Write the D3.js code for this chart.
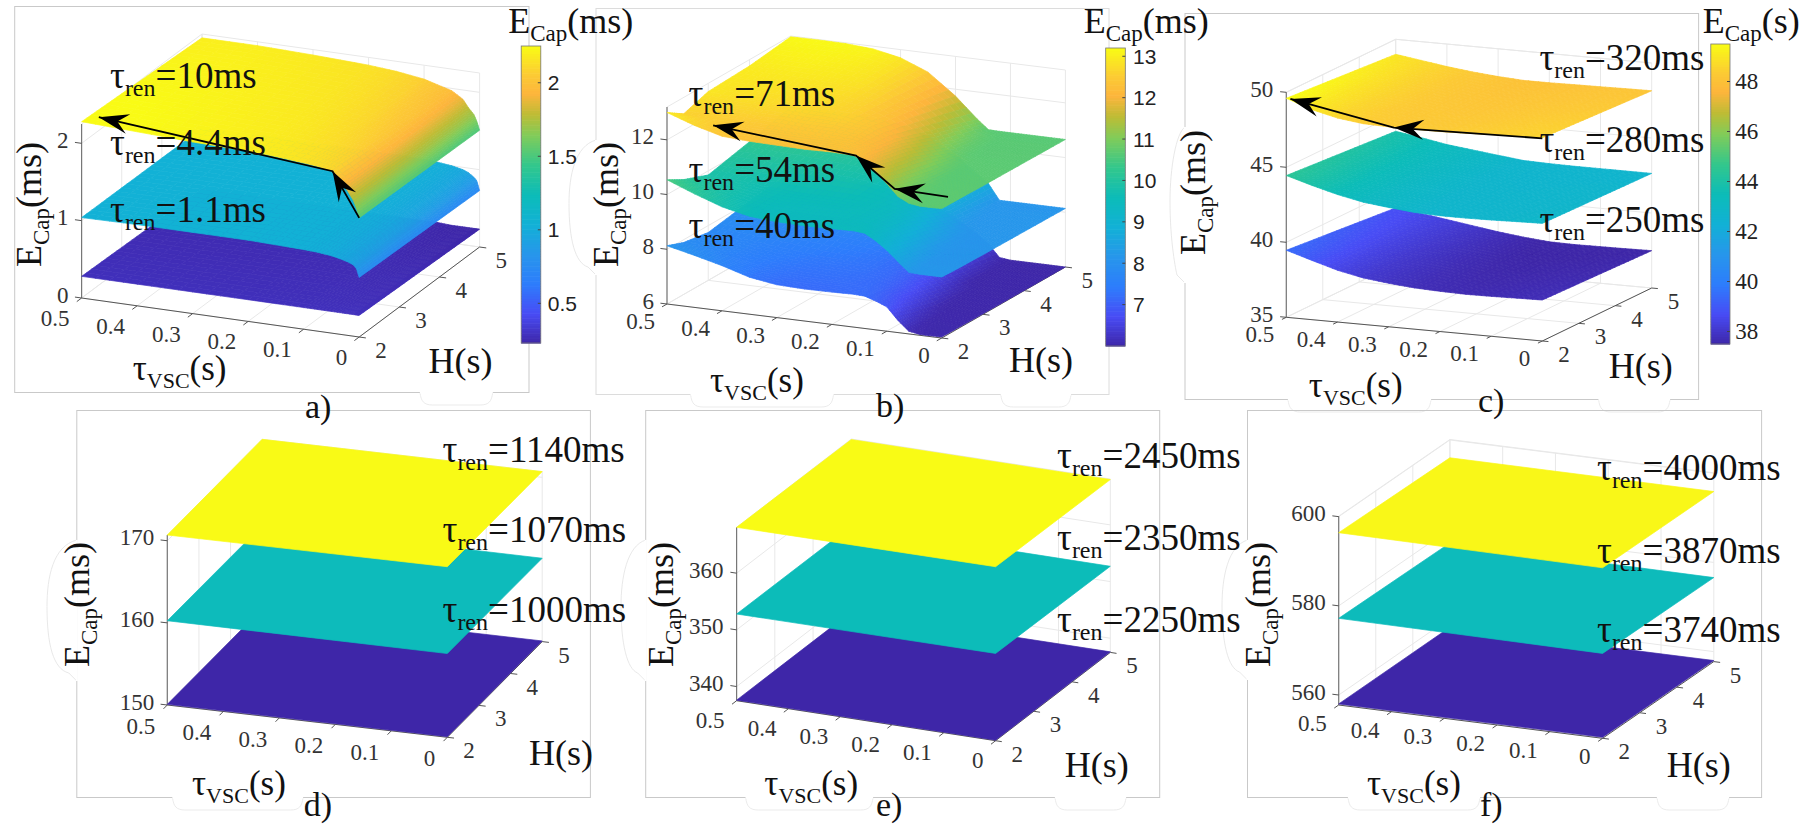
<!DOCTYPE html>
<html><head><meta charset="utf-8">
<script src="https://cdn.jsdelivr.net/npm/d3@7"></script>
<style>html,body{margin:0;padding:0;background:#fff;overflow:hidden}svg{display:block}text{font-family:"Liberation Serif",serif}</style>
</head><body><svg id="c" width="1811" height="824"></svg>
<script>
// ---------- data ----------
const tauTicks=[0.5,0.4,0.3,0.2,0.1,0];
const hTicks=[2,3,4,5];

// panel a
const aTau=[0,0.005,0.01,0.02,0.03,0.05,0.075,0.1,0.15,0.2,0.3,0.4,0.5];
const aH=[2,5];
const aTop=[[1.54,1.66,1.75,1.86,1.96,2.10,2.13,2.15,2.18,2.20,2.22,2.25,2.28],
            [1.51,1.62,1.70,1.78,1.88,1.97,2.02,2.07,2.12,2.15,2.18,2.20,2.20]];
const aMid=[[0.77,0.88,0.92,0.95,0.97,1.00,1.02,1.03,1.04,1.05,1.05,1.05,1.04],
            [0.73,0.85,0.89,0.94,0.97,1.00,1.02,1.03,1.04,1.04,1.04,1.04,1.03]];
const aLow=[[0.28,0.28,0.28,0.28,0.28,0.28,0.28,0.28,0.28,0.28,0.28,0.28,0.28],
            [0.23,0.23,0.23,0.23,0.23,0.23,0.24,0.24,0.24,0.24,0.24,0.24,0.24]];
// panel b
const bTau=[0,0.02,0.04,0.06,0.08,0.1,0.12,0.14,0.16,0.2,0.25,0.3,0.35,0.4,0.45,0.5];
const bH=[2,2.4,3,4,5];
const bTop=[[10.73,10.72,10.72,10.78,10.98,11.40,11.78,12.10,12.28,12.30,12.28,12.30,12.32,12.38,12.65,13.00],
            [10.72,10.72,10.72,10.72,10.85,11.15,11.55,11.90,12.15,12.35,12.40,12.42,12.45,12.50,12.55,12.60],
            [10.70,10.70,10.70,10.70,10.72,10.95,11.35,11.70,12.00,12.40,12.60,12.65,12.70,12.75,12.80,12.90],
            [10.68,10.68,10.68,10.68,10.68,10.69,10.80,11.10,11.50,12.10,12.60,12.85,12.92,12.96,12.97,12.97],
            [10.66,10.66,10.66,10.66,10.66,10.66,10.66,10.67,11.00,11.75,12.50,12.90,13.10,13.17,13.18,13.17]];
const bMid=[[8.23,8.23,8.23,8.25,8.60,8.96,9.25,9.48,9.52,9.50,9.48,9.50,9.58,9.80,10.15,10.54],
            [8.20,8.20,8.20,8.20,8.45,8.80,9.10,9.35,9.45,9.50,9.50,9.50,9.55,9.70,9.95,10.20],
            [8.18,8.18,8.18,8.18,8.25,8.55,8.90,9.20,9.40,9.55,9.60,9.60,9.62,9.70,9.80,9.85],
            [8.16,8.16,8.16,8.16,8.16,8.17,8.35,8.70,9.00,9.45,9.85,10.00,10.08,10.15,10.18,10.20],
            [8.14,8.14,8.14,8.14,8.14,8.14,8.14,8.70,9.00,9.60,10.15,10.45,10.58,10.62,10.62,10.60]];
const bLow=[[6.04,6.03,6.03,6.10,6.45,6.89,7.05,7.18,7.20,7.18,7.17,7.20,7.35,7.65,7.90,8.13],
            [6.03,6.03,6.03,6.04,6.25,6.65,6.90,7.10,7.18,7.22,7.25,7.28,7.38,7.55,7.75,7.90],
            [6.02,6.02,6.02,6.02,6.05,6.40,6.75,7.00,7.15,7.30,7.35,7.40,7.50,7.60,7.70,7.75],
            [6.01,6.01,6.01,6.01,6.01,6.02,6.30,6.65,6.95,7.35,7.60,7.75,7.85,7.95,8.00,8.02],
            [6.00,6.00,6.00,6.00,6.00,6.00,6.05,6.50,6.80,7.30,7.75,8.00,8.12,8.18,8.20,8.20]];
// panel c
const cTau=[0,0.05,0.1,0.15,0.2,0.25,0.3,0.35,0.4,0.45,0.5];
const cH=[2,5];
const cTop=[[48.55,48.50,48.45,48.38,48.33,48.33,48.33,48.38,48.60,49.00,49.60],
            [48.15,48.13,48.10,48.08,48.05,48.05,48.15,48.30,48.50,48.75,49.00]];
const cMid=[[42.84,42.80,42.75,42.72,42.72,42.78,42.95,43.15,43.50,43.95,44.45],
            [42.64,42.64,42.64,42.64,42.66,42.71,42.90,43.10,43.30,43.60,43.87]];
const cLow=[[37.73,37.70,37.66,37.64,37.68,37.75,37.90,38.10,38.45,38.95,39.47],
            [37.49,37.46,37.44,37.42,37.45,37.60,37.80,38.05,38.30,38.55,38.76]];
// panels d, e, f (nearly flat sheets)
const flatTau=[0,0.5];
const flatH=[2,5];
const dTop=[[170.77,170.70],[170.70,170.70]];
const dMid=[[160.20,160.26],[160.15,160.20]];
const dLow=[[150.08,150.08],[150.08,150.08]];
const eTop=[[368.2,368.1],[368.0,368.0]];
const eMid=[[352.9,352.8],[352.7,352.75]];
const eLow=[[337.6,337.6],[337.6,337.6]];
const fTop=[[596.0,596.4],[595.9,596.0]];
const fMid=[[576.8,577.2],[576.6,576.9]];
const fLow=[[558,558],[558,558]];

// arrows on the surfaces: tau, H, E of each vertex
const aArrow=[[0,2,1.54],[0.048,2,2.095],[0.469,2,2.37]];
const bArrow=[[0.011,2.3,10.87],[0.0855,2,11.24],[0.156,2,12.28],[0.416,2,12.74]];
const cArrow=[[0,2,48.51],[0.29,2,48.31],[0.492,2,49.58]];

const parulaStops=[0,0.1,0.2,0.3,0.4,0.5,0.6,0.7,0.77,0.84,0.9,1];
const parulaColors=["#3e26a8","#484cf5","#2d7dfc","#2796eb","#12b1d6","#0cbcb8","#33c78c","#81cc59","#bdbc35","#fdb53c","#fcc935","#f9fb15"];
const cmap=d3.scaleLinear().domain(parulaStops).range(parulaColors).interpolate(d3.interpolateRgb).clamp(true);

const panels=[
 {id:"a",frame:[14.7,6,529,392],O:[81.6,298],T:[277.6,39],Hv:[120.4,-90],zDom:[0,2.25],zPx:174,zTicks:[0,1,2],cDom:[0.23,2.25],
  tau:aTau,H:aH,sheets:[aLow,aMid,aTop],sub:[4,24],arrow:aArrow,xDy:28,
  tags:["10ms","4.4ms","1.1ms"],tagPos:[110,88,155,222],eLab:[41,267],vLab:[132.7,380],hLab:[428.6,373],letter:[305,418,"a)"],
  bar:{x:521.2,y0:46,y1:343,w:19.6,ticks:[0.5,1,1.5,2],fmt:"sans",lx:547.8,title:[508.2,33,"(ms)"]},
  notch:[[420,492.7]],bulge:null},
 {id:"b",frame:[596,8,1109,394],O:[667,304],T:[274.7,34],Hv:[123.7,-71],zDom:[6,13.2],zPx:197,zTicks:[6,8,10,12],cDom:[6,13.2],
  tau:bTau,H:bH,sheets:[bLow,bMid,bTop],sub:[4,7],arrow:bArrow,xDy:25,
  tags:["71ms","54ms","40ms"],tagPos:[688.6,106,182,238],eLab:[618,267],vLab:[710,392],hLab:[1009,372],letter:[876,417,"b)"],
  bar:{x:1105.7,y0:48,y1:346,w:19.6,ticks:[7,8,9,10,11,12,13],fmt:"sans",lx:1133,title:[1083.7,33,"(ms)"]},
  notch:[[690.6,833.5],[1000.8,1071]],bulge:[569,140,267]},
 {id:"c",frame:[1185,13,1698.6,399],O:[1286.3,317.3],T:[256,23.7],Hv:[109.4,-53],zDom:[35,50],zPx:225,zTicks:[35,40,45,50],cDom:[37.5,49.5],
  tau:cTau,H:cH,sheets:[cLow,cMid,cTop],sub:[5,24],arrow:cArrow,xDy:25,
  tags:["320ms","280ms","250ms"],tagPos:[1539.4,70,152,232],eLab:[1204.7,255],vLab:[1308.8,397],hLab:[1608.8,378],letter:[1478,412,"c)"],
  bar:{x:1710.8,y0:44,y1:344,w:19.2,ticks:[38,40,42,44,46,48],fmt:"serif",lx:1735.3,title:[1702.7,33,"(s)"]},
  notch:[[1288,1431],[1598.6,1670]],bulge:[1170,127,275]},
 {id:"d",frame:[76.8,410,590.4,797],O:[167.3,705],T:[280,32.3],Hv:[94.9,-95.7],zDom:[150,170.7],zPx:170,zTicks:[150,160,170],cDom:[150.08,170.75],
  tau:flatTau,H:flatH,sheets:[dLow,dMid,dTop],sub:[1,1],arrow:null,xDy:29,
  tags:["1140ms","1070ms","1000ms"],tagPos:[442.5,462,542,622],eLab:[89.4,667],vLab:[192,795],hLab:[529,765],letter:[303.7,816,"d)"],
  bar:null,notch:[[172.5,303]],bulge:[47,540,673]},
 {id:"e",frame:[645.7,410,1159.7,797],O:[736.6,700.7],T:[259,40],Hv:[114.7,-88.3],zDom:[337.5,368.1],zPx:173.4,zTicks:[340,350,360],cDom:[337.6,368.1],
  tau:flatTau,H:flatH,sheets:[eLow,eMid,eTop],sub:[1,1],arrow:null,xDy:27,
  tags:["2450ms","2350ms","2250ms"],tagPos:[1057,468,550,632],eLab:[672.6,667],vLab:[764.3,795],hLab:[1064.8,777],letter:[876,816,"e)"],
  bar:null,notch:[[745.7,873],[1055,1126]],bulge:[621,540,673]},
 {id:"f",frame:[1247.5,410,1761.6,797],O:[1338.7,705],T:[263.9,33.3],Hv:[111.2,-76.7],zDom:[557.76,600.1],zPx:188.8,zTicks:[560,580,600],cDom:[558,596.4],
  tau:flatTau,H:flatH,sheets:[fLow,fMid,fTop],sub:[1,1],arrow:null,xDy:26,
  tags:["4000ms","3870ms","3740ms"],tagPos:[1597,480,563,642],eLab:[1270,667],vLab:[1367,795],hLab:[1666.7,777],letter:[1480,816,"f)"],
  bar:null,notch:[[1348,1480],[1657,1729]],bulge:[1222,540,672]}
];

const svg=d3.select("#c");
const ink="#111", tickInk="#333";
const line=d3.line();

function math(g,x,y,parts,attrs){
  const t=g.append("text").attr("x",x).attr("y",y).attr("fill",ink);
  if(attrs&&attrs.transform) t.attr("transform",attrs.transform).attr("x",0).attr("y",0);
  let cur=0;
  parts.forEach(p=>{
    t.append("tspan").attr("dy",(p.dy||0)-cur).attr("font-size",p.s).text(p.t);
    cur=p.dy||0;
  });
  return t;
}

// frames and their white cut-outs
const back=svg.append("g");
panels.forEach(p=>{
  const [x0,y0,x1,y1]=p.frame;
  back.append("rect").attr("x",x0).attr("y",y0+.5).attr("width",x1-x0).attr("height",y1-y0)
    .attr("fill","none").attr("stroke",p.id==="b"?"#dcdcdc":"#c9c9c9").attr("stroke-width",1);
  p.notch.forEach(n=>{
    const d=13,r=9;
    back.append("path").attr("d",`M${n[0]},${y1+.5}C${n[0]+1},${y1+d*.7} ${n[0]+r*.4},${y1+d} ${n[0]+r*1.4},${y1+d}L${n[1]-r*1.4},${y1+d}C${n[1]-r*.4},${y1+d} ${n[1]-1},${y1+d*.7} ${n[1]},${y1+.5}`)
      .attr("fill","#fff").attr("stroke","#e6e6e6").attr("stroke-width",.8);
    back.append("line").attr("x1",n[0]).attr("x2",n[1]).attr("y1",y1+.5).attr("y2",y1+.5).attr("stroke","#fff").attr("stroke-width",2);
  });
  if(p.bulge){
    const [bx,b0,b1]=p.bulge, xe=x0;
    back.append("path").attr("d",`M${xe},${b0}C${bx+6},${b0+6} ${bx},${b0+(b1-b0)*.28} ${bx},${(b0+b1)/2}C${bx},${b0+(b1-b0)*.78} ${bx+6},${b1-4} ${xe-8},${b1}L${xe},${b1+8}`)
      .attr("fill","#fff").attr("stroke","#e2e2e2").attr("stroke-width",.8);
    back.append("line").attr("x1",xe).attr("x2",xe).attr("y1",b0).attr("y2",b1+8).attr("stroke","#fff").attr("stroke-width",2);
  }
});

panels.forEach(p=>{
  const g=svg.append("g").attr("class","panel-"+p.id);
  const tx=d3.scaleLinear().domain([0.5,0]).range([0,1]);
  const hx=d3.scaleLinear().domain([2,5]).range([0,1]);
  const zx=d3.scaleLinear().domain(p.zDom).range([0,p.zPx]);
  const proj=(tau,H,z)=>{const a=tx(tau),b=hx(H);return [p.O[0]+a*p.T[0]+b*p.Hv[0],p.O[1]+a*p.T[1]+b*p.Hv[1]-zx(z)];};
  const colour=d3.scaleLinear().domain(p.cDom).range([0,1]).clamp(true);
  const zTop=p.zDom[1],zLow=p.zDom[0];
  const gridCol="#e8e8e8";
  const seg=(a,b,col,w)=>g.append("path").attr("d",line([a,b])).attr("stroke",col).attr("stroke-width",w).attr("fill","none");

  // box grid: floor, wall at tau=0.5 and wall at H=5
  tauTicks.forEach(t=>{seg(proj(t,2,zLow),proj(t,5,zLow),gridCol,1);seg(proj(t,5,zLow),proj(t,5,zTop),gridCol,1);});
  hTicks.forEach(h=>{seg(proj(0.5,h,zLow),proj(0,h,zLow),gridCol,1);seg(proj(0.5,h,zLow),proj(0.5,h,zTop),gridCol,1);});
  p.zTicks.concat([zTop]).forEach(z=>{seg(proj(0.5,2,z),proj(0.5,5,z),gridCol,1);seg(proj(0.5,5,z),proj(0,5,z),gridCol,1);});

  // axes
  const axCol="#555";
  seg(proj(0.5,2,zLow),proj(0,2,zLow),axCol,1);
  seg(proj(0,2,zLow),proj(0,5,zLow),axCol,1);
  seg(proj(0.5,2,zLow),proj(0.5,2,zTop),"#777",1.2);
  const ticks=g.append("g");
  tauTicks.forEach(t=>{
    const a=proj(t,2,zLow), b=proj(t,1.88,zLow);
    ticks.append("path").attr("d",line([a,b])).attr("stroke",axCol).attr("fill","none");
    ticks.append("text").attr("x",a[0]-12).attr("y",a[1]+p.xDy).attr("text-anchor","end").attr("font-size",23).attr("fill",tickInk).text(String(t));
  });
  hTicks.forEach(h=>{
    const a=proj(0,h,zLow), b=proj(-0.012,h,zLow);
    ticks.append("path").attr("d",line([a,b])).attr("stroke",axCol).attr("fill","none");
    ticks.append("text").attr("x",a[0]+16).attr("y",a[1]+21).attr("font-size",23).attr("fill",tickInk).text(String(h));
  });
  p.zTicks.forEach(z=>{
    const a=proj(0.5,2,z), b=proj(0.512,2,z);
    ticks.append("path").attr("d",line([a,b])).attr("stroke",axCol).attr("fill","none");
    ticks.append("text").attr("x",a[0]-13).attr("y",a[1]+4.5).attr("text-anchor","end").attr("font-size",23).attr("fill",tickInk).text(String(z));
  });

  // surfaces: painted from far to near
  const [st,sh]=p.sub;
  p.sheets.forEach(sheet=>{
    const cells=[];
    const nT=p.tau.length-1,nH=p.H.length-1;
    for(let j=nH-1;j>=0;j--){
      for(let js=sh-1;js>=0;js--){
        for(let i=nT-1;i>=0;i--){
          for(let is=st-1;is>=0;is--){
            const val=(ui,uj)=>{
              const a=sheet[j][i]*(1-ui)+sheet[j][i+1]*ui, b=sheet[j+1][i]*(1-ui)+sheet[j+1][i+1]*ui;
              return a*(1-uj)+b*uj;
            };
            const pt=(ui,uj)=>proj(p.tau[i]+(p.tau[i+1]-p.tau[i])*ui,p.H[j]+(p.H[j+1]-p.H[j])*uj,val(ui,uj));
            const u0=is/st,u1=(is+1)/st,v0=js/sh,v1=(js+1)/sh;
            cells.push({path:[pt(u0,v0),pt(u1,v0),pt(u1,v1),pt(u0,v1)],e:val((u0+u1)/2,(v0+v1)/2)});
          }
        }
      }
    }
    g.append("g").selectAll("path").data(cells).join("path")
      .attr("d",d=>line(d.path)+"Z")
      .attr("fill",d=>cmap(colour(d.e)))
      .attr("stroke",d=>cmap(colour(d.e)))
      .attr("stroke-width",0.7)
      .attr("stroke-linejoin","round");
  });

  // arrows
  if(p.arrow){
    const pts=p.arrow.map(a=>proj(a[0],a[1],a[2]));
    g.append("path").attr("d",line(pts)).attr("fill","none").attr("stroke","#000").attr("stroke-width",1.8);
    pts.slice(1).forEach((tip,i)=>{
      const from=pts[i], ang=Math.atan2(tip[1]-from[1],tip[0]-from[0]);
      const L=30,W=10,N=19;
      const loc=(a,b)=>[tip[0]-a*Math.cos(ang)-b*Math.sin(ang),tip[1]-a*Math.sin(ang)+b*Math.cos(ang)];
      g.append("path").attr("d",line([tip,loc(L,W),loc(N,0),loc(L,-W)])+"Z").attr("fill","#000");
    });
  }

  // labels on sheets
  p.tags.forEach((tag,i)=>{
    math(g,p.tagPos[0],p.tagPos[i+1],[{t:"τ",s:37},{t:"ren",s:24,dy:8},{t:"="+tag,s:37,dy:0}]);
  });
  // axis names
  math(g,0,0,[{t:"E",s:36},{t:"Cap",s:23,dy:8},{t:"(ms)",s:36,dy:0}],{transform:`translate(${p.eLab[0]},${p.eLab[1]}) rotate(-90)`});
  math(g,p.vLab[0],p.vLab[1],[{t:"τ",s:35},{t:"VSC",s:22,dy:8},{t:"(s)",s:35,dy:0}]);
  math(g,p.hLab[0],p.hLab[1],[{t:"H(s)",s:36}]);
  math(g,p.letter[0],p.letter[1],[{t:p.letter[2],s:34}]);

  // colour bar
  if(p.bar){
    const b=p.bar;
    const by=d3.scaleLinear().domain(p.cDom).range([b.y1,b.y0]);
    const N=d3.range(0,120);
    g.append("g").selectAll("rect").data(N).join("rect")
      .attr("x",b.x).attr("width",b.w)
      .attr("y",i=>by(p.cDom[0]+(i+1)/120*(p.cDom[1]-p.cDom[0])))
      .attr("height",(b.y1-b.y0)/120+.6)
      .attr("fill",i=>cmap((i+.5)/120));
    g.append("rect").attr("x",b.x).attr("y",b.y0).attr("width",b.w).attr("height",b.y1-b.y0).attr("fill","none").attr("stroke","#777").attr("stroke-width",.8);
    b.ticks.forEach(v=>{
      g.append("line").attr("x1",b.x+b.w-3).attr("x2",b.x+b.w).attr("y1",by(v)).attr("y2",by(v)).attr("stroke","#444");
      g.append("text").attr("x",b.lx).attr("y",by(v)+7.5)
        .attr("font-size",b.fmt==="sans"?21:23).attr("fill","#222")
        .style("font-family",b.fmt==="sans"?'"Liberation Sans",sans-serif':'"Liberation Serif",serif').text(String(v));
    });
    math(g,b.title[0],b.title[1],[{t:"E",s:36},{t:"Cap",s:23,dy:8},{t:b.title[2],s:36,dy:0}]);
  }
});
</script></body></html>
